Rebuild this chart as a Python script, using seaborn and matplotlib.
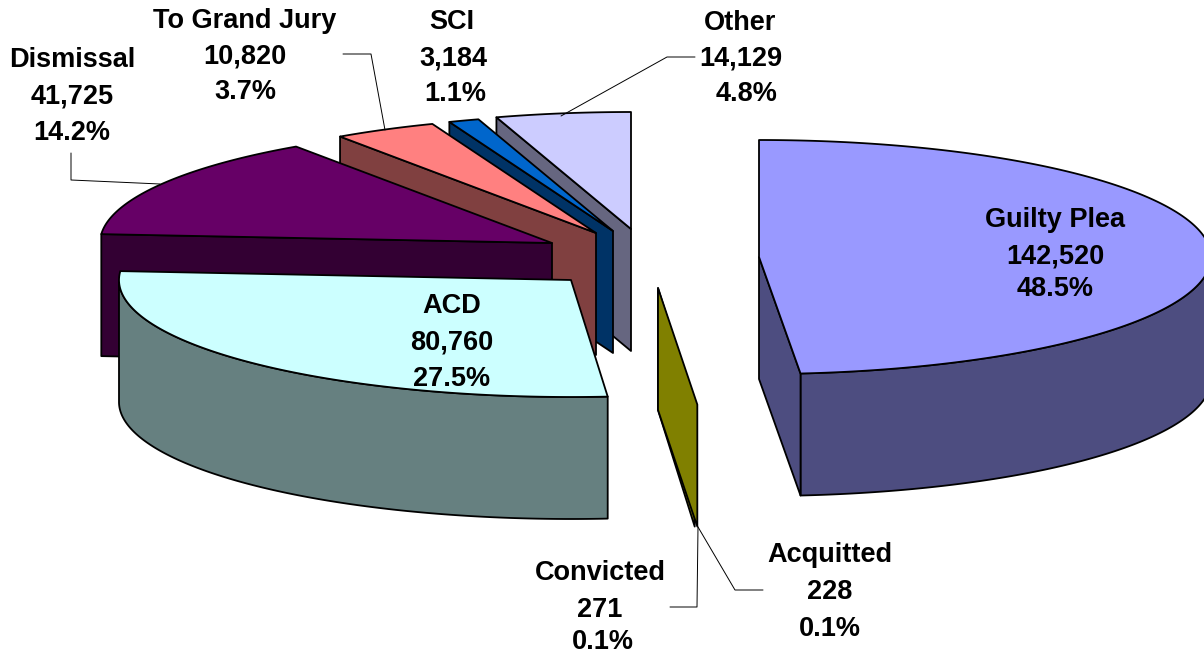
import numpy as np
import matplotlib
matplotlib.use("Agg")
import matplotlib.pyplot as plt
import seaborn as sns

# ---- data ----
categories = ["Guilty Plea", "Acquitted", "Convicted", "ACD", "Dismissal",
              "To Grand Jury", "SCI", "Other"]
values = [142520, 228, 271, 80760, 41725, 10820, 3184, 14129]
top_colors = ["#9999FF", "#FFFF00", "#FFFF00", "#CCFFFF", "#660066",
              "#FF8080", "#0066CC", "#CCCCFF"]

# ---- layout of the exploded 3-D pie, in pixels ----
W, H = 1204, 655
RX, RY, DEPTH = 452, 117, 122
slice_centers = [(759, 257), (658, 288), (658, 288), (571, 280), (552, 243),
                 (596, 233), (613, 231), (631, 229)]
label_x = [(1055, 1055, 1055), (830, 830, 830), (600, 600, 603), (452, 452, 452),
           (72, 72, 72), (245, 245, 245), (452, 453, 455), (740, 741, 747)]
label_y = [(220, 256, 289), (555, 592, 629), (573, 610, 642), (306, 342, 379),
           (60, 97, 133), (21, 57, 92), (22, 58, 94), (23, 58, 94)]
leader_x = [None, (763, 735, 698), (670, 697, 698), None, (71, 71, 160),
            (343, 371, 385), None, (695, 667, 561)]
leader_y = [None, (590, 590, 527), (607, 607, 527), None, (153, 180, 184),
            (54, 54, 130), None, (57, 57, 116)]

sns.set_theme(style="white")
plt.rcParams["font.family"] = ["Liberation Sans", "DejaVu Sans"]
fig = plt.figure(figsize=(W / 100, H / 100), dpi=100)
ax = fig.add_axes([0, 0, 1, 1])
ax.set_xlim(0, W)
ax.set_ylim(H, 0)
ax.axis("off")
sns.despine(ax=ax, left=True, bottom=True)

palette = sns.color_palette(top_colors)
total = sum(values)
fractions = np.array(values) / total
ends = np.cumsum(fractions) * 360
starts = ends - fractions * 360


def rim(cx, cy, a, b, drop=0.0):
    t = np.radians(np.linspace(a, b, max(int(abs(b - a) * 3), 2)))
    return cx + RX * np.sin(t), cy - RY * np.cos(t) + drop


def patch(xs, ys, color, z):
    ax.fill(xs, ys, facecolor=color, edgecolor="black", linewidth=1.3,
            joinstyle="round", zorder=z)


order = range(len(values) - 1, -1, -1)
z = 1
for i in order:
    cx, cy = slice_centers[i]
    a, b = starts[i], ends[i]
    top = palette[i]
    wall = tuple(c * 0.5 for c in top)
    # outer curved wall, on the front half only (too thin to show on slivers)
    lo, hi = max(a, 90), min(b, 270)
    if hi - lo > 1:
        x1, y1 = rim(cx, cy, lo, hi)
        x2, y2 = rim(cx, cy, lo, hi, DEPTH)
        patch(np.r_[x1, x2[::-1]], np.r_[y1, y2[::-1]], wall, z)
        z += 1
    # radial face, visible when it turns towards the viewer
    edge = b if b < 180 else (a if a > 180 else None)
    if edge is not None:
        ex, ey = rim(cx, cy, edge, edge)
        ex, ey = ex[0], ey[0]
        patch([cx, ex, ex, cx], [cy, ey, ey + DEPTH, cy + DEPTH], wall, z)
        z += 1
    # top face
    if b - a > 1:
        xt, yt = rim(cx, cy, a, b)
        patch(np.r_[cx, xt], np.r_[cy, yt], top, z)
    z += 1

# leader lines
for lx, ly in zip(leader_x, leader_y):
    if lx is not None:
        sns.lineplot(x=list(lx), y=list(ly), ax=ax, color="black", linewidth=0.7,
                     estimator=None, sort=False, legend=False, zorder=z)

# labels
for name, v, f, xs, ys in zip(categories, values, fractions, label_x, label_y):
    lines = [name, f"{v:,}", f"{f:.1%}"]
    for s, x, y in zip(lines, xs, ys):
        ax.text(x, y, s, ha="center", va="center", fontsize=19.5,
                fontweight="bold", color="black", zorder=z + 1)

fig.savefig("out.png", dpi=100, facecolor="white")
